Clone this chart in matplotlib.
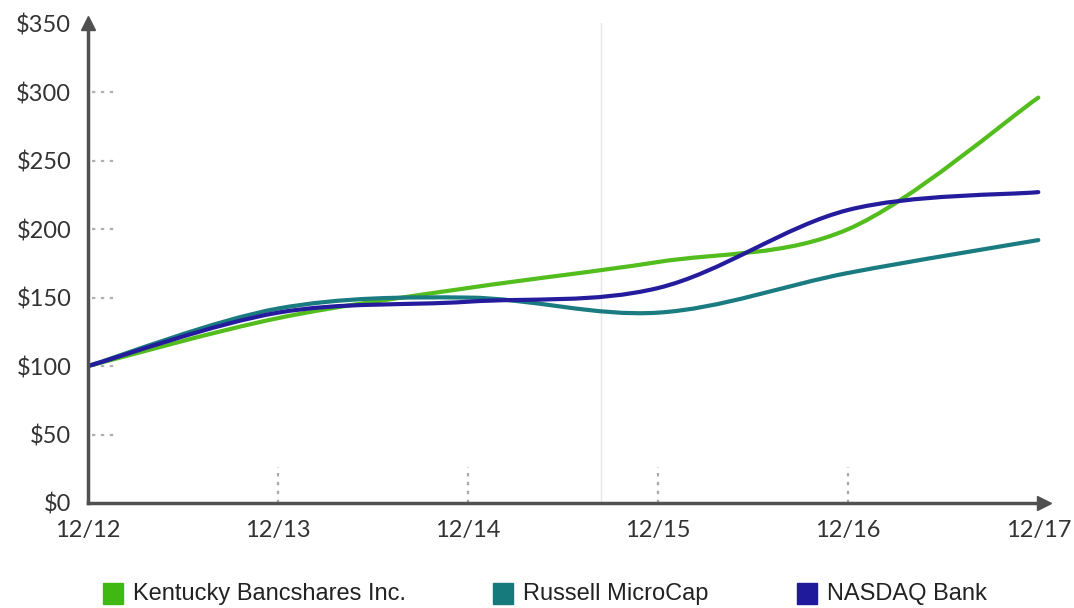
import matplotlib
matplotlib.use('Agg')
import matplotlib.pyplot as plt
import numpy as np
from matplotlib.path import Path
from matplotlib.patches import PathPatch, Rectangle

# data
periods = ['12/12', '12/13', '12/14', '12/15', '12/16', '12/17']
kentucky = [100, 135, 157, 176, 200, 296]
russell = [100, 142, 150, 139, 168, 192]
nasdaq = [100, 139, 147, 157, 214, 227]
y_ticks = [0, 50, 100, 150, 200, 250, 300, 350]

names = ['Kentucky Bancshares Inc.', 'Russell MicroCap', 'NASDAQ Bank']
colors = ['#52bd1c', '#1a7b80', '#241c9c']
legend_colors = ['#3fb814', '#16797c', '#1f1a9c']

plt.rcParams['font.family'] = ['Lato', 'DejaVu Sans']
axis_col = '#505050'


def smooth_path(xs, ys, tension=0.5):
    # catmull-rom through the points, drawn as cubic bezier segments
    xs = np.asarray(xs, float)
    ys = np.asarray(ys, float)
    n = len(xs)
    verts = [(xs[0], ys[0])]
    codes = [Path.MOVETO]
    for i in range(n - 1):
        p0 = (xs[max(i - 1, 0)], ys[max(i - 1, 0)])
        p1 = (xs[i], ys[i])
        p2 = (xs[i + 1], ys[i + 1])
        p3 = (xs[min(i + 2, n - 1)], ys[min(i + 2, n - 1)])
        c1 = (p1[0] + (p2[0] - p0[0]) * tension / 3, p1[1] + (p2[1] - p0[1]) * tension / 3)
        c2 = (p2[0] - (p3[0] - p1[0]) * tension / 3, p2[1] - (p3[1] - p1[1]) * tension / 3)
        verts += [c1, c2, p2]
        codes += [Path.CURVE4] * 3
    return Path(verts, codes)


fig = plt.figure(figsize=(10.74, 6.08), dpi=100)
ax = fig.add_axes([88 / 1074, 1 - 503 / 608, 956 / 1074, 480 / 608])
ax.set_xlim(0, 5.03)
ax.set_ylim(0, 350.5)

x = np.arange(len(periods))

# faint scan line
ax.axvline(2.7, color='#e6e6e6', lw=1, zorder=0)

# dotted guide ticks
for v in y_ticks[1:-1]:
    ax.plot([0.02, 0.16], [v, v], color='#b0b0b0', lw=1.6, ls=(0, (1.5, 2.5)), zorder=1)
for xi in x[1:-1]:
    ax.plot([xi, xi], [0, 26], color='#a8a8a8', lw=1.6, ls=(0, (1.5, 2.5)), zorder=1)

for series, c in zip([kentucky, russell, nasdaq], colors):
    ax.add_patch(PathPatch(smooth_path(x, series), fill=False, edgecolor=c, lw=3,
                           capstyle='round', zorder=3))

for s in ax.spines.values():
    s.set_visible(False)
ax.plot([0, 5.0], [0, 0], color=axis_col, lw=2.5, clip_on=False, zorder=4)
ax.plot([0, 0], [0, 345], color=axis_col, lw=2.5, clip_on=False, zorder=4)
ax.plot(5.03, 0, marker='>', color=axis_col, ms=10, clip_on=False, zorder=5)
ax.plot(0, 350.5, marker='^', color=axis_col, ms=10, clip_on=False, zorder=5)

ax.set_xticks(x)
ax.set_xticklabels(periods)
ax.set_yticks(y_ticks)
ax.set_yticklabels(['$' + str(v) for v in y_ticks])
ax.tick_params(length=0, labelsize=17, colors='#333333')
ax.tick_params(axis='x', pad=12)
ax.tick_params(axis='y', pad=12)

# legend
leg_x = [103, 493, 797]
for lx, name, c in zip(leg_x, names, legend_colors):
    fig.add_artist(Rectangle((lx / 1074, 1 - 604 / 608), 20 / 1074, 21 / 608,
                             transform=fig.transFigure, color=c))
    fig.text((lx + 30) / 1074, 1 - 594 / 608, name, fontsize=17, color='#222222',
             va='center', family=['Liberation Sans', 'DejaVu Sans'])

fig.savefig('out.png', dpi=100)
